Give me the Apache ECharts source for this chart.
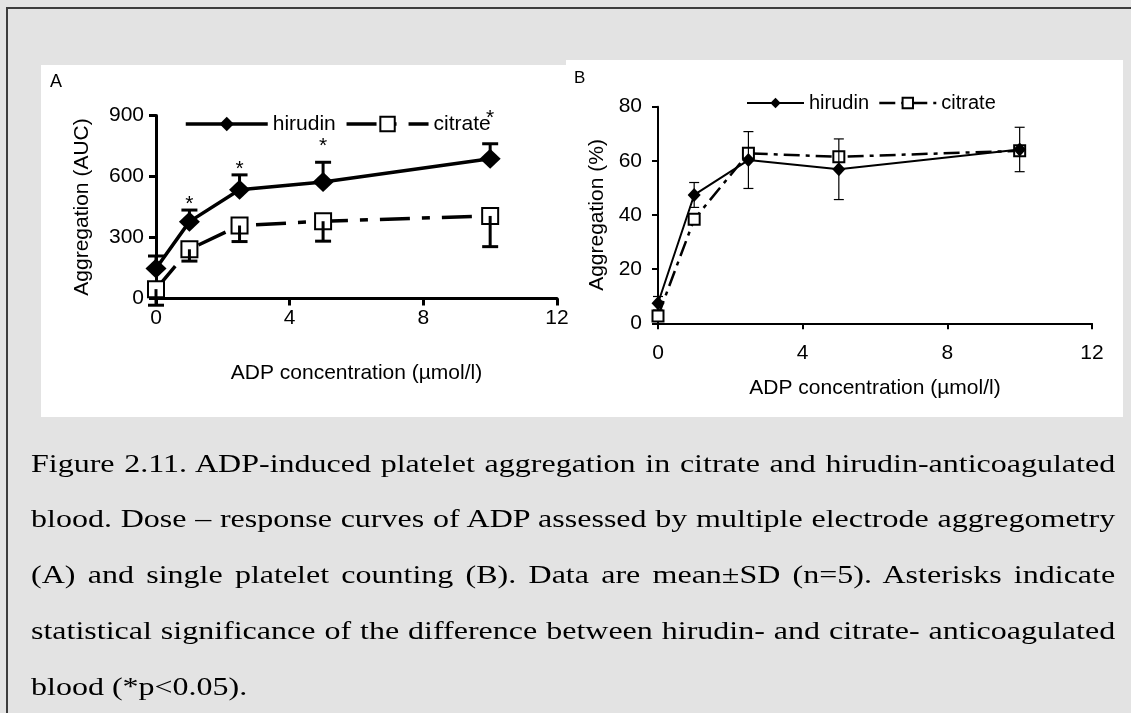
<!DOCTYPE html>
<html>
<head>
<meta charset="utf-8">
<script src="https://cdn.jsdelivr.net/npm/echarts@6/dist/echarts.min.js"></script>
<style>
html,body{margin:0;padding:0;background:#e3e3e3;}
#wrap{position:relative;width:1131px;height:713px;overflow:hidden;background:#e3e3e3;}
#frame{position:absolute;left:6px;top:7px;width:1200px;height:800px;border-top:2px solid #3c3c3c;border-left:2px solid #3c3c3c;}
.panel{position:absolute;background:#fff;}
#chart{position:absolute;left:0;top:0;width:1131px;height:713px;}
#caption{position:absolute;left:31px;top:435.7px;width:847px;font-family:"Liberation Serif","Times New Roman",serif;font-size:25px;line-height:55.75px;color:#000;transform:scaleX(1.28);transform-origin:0 0;}
#caption div{text-align:justify;text-align-last:justify;}
#caption div.last{text-align:left;text-align-last:left;}
</style>
</head>
<body>
<div id="wrap">
  <div id="frame"></div>
  <div class="panel" style="left:41px;top:65px;width:525px;height:352px;"></div>
  <div class="panel" style="left:566px;top:60px;width:557px;height:357px;"></div>
  <div id="chart"></div>
  <div id="caption">
    <div>Figure 2.11. ADP-induced platelet aggregation in citrate and hirudin-anticoagulated</div>
    <div>blood. Dose – response curves of ADP assessed by multiple electrode aggregometry</div>
    <div>(A) and single platelet counting (B). Data are mean±SD (n=5). Asterisks indicate</div>
    <div>statistical significance of the difference between hirudin- and citrate- anticoagulated</div>
    <div class="last">blood (*p&lt;0.05).</div>
  </div>
</div>
<script>
// ---------------- data ----------------
const xValues = [0, 1, 2.5, 5, 10];            // ADP concentration (µmol/l)
const xTicks = [0, 4, 8, 12];
// Panel A: multiple electrode aggregometry (AUC)
const hirudinA = [148, 378, 535, 573, 687];
const hirudinA_SD = [61, 57, 73, 97, 74];
const citrateA = [46, 242, 359, 380, 406];
const citrateA_SD = [79, 58, 79, 98, 151];
const asteriskA = ['', '*', '*', '*', '*'];
const asteriskA_at = [0, 484, 658, 768, 904];   // value level of each asterisk
const yTicksA = [0, 300, 600, 900];
// Panel B: single platelet counting (%)
const hirudinB = [7.4, 47.4, 60.3, 56.9, 64.2];
const hirudinB_SD = [2.5, 4.6, 10.5, 11.2, 8.2];
const citrateB = [2.7, 38.4, 62.8, 61.5, 63.7];
const yTicksB = [0, 20, 40, 60, 80];

// ---------------- chart ----------------
const FONT = '"Liberation Sans", Arial, sans-serif';
const chart = echarts.init(document.getElementById('chart'), null, {renderer: 'canvas'});

function pairs(ys) { return xValues.map((x, i) => [x, ys[i]]); }

function errorBars(name, idx, means, sds, dir, lw, capHalf, z, stars, starAt) {
  return {
    type: 'custom', name: name, xAxisIndex: idx, yAxisIndex: idx, z: z,
    silent: true, clip: false,
    data: xValues.map((x, i) => [x, means[i], sds[i]]),
    encode: {x: 0, y: 1},
    renderItem: function (params, api) {
      const i = params.dataIndex;
      const x = api.value(0), m = api.value(1), s = api.value(2);
      const children = [];
      const st = {stroke: '#000', lineWidth: lw, fill: null};
      if (s > 0) {
        const c = api.coord([x, m]);
        const ends = [];
        if (dir !== 'down') ends.push(api.coord([x, m + s]));
        if (dir !== 'up') ends.push(api.coord([x, m - s]));
        ends.forEach(function (p) {
          children.push({type: 'line', shape: {x1: c[0], y1: c[1], x2: p[0], y2: p[1]}, style: st});
          children.push({type: 'line', shape: {x1: p[0] - capHalf, y1: p[1], x2: p[0] + capHalf, y2: p[1]}, style: st});
        });
      }
      if (stars && stars[i]) {
        const p = api.coord([x, starAt[i]]);
        children.push({type: 'text', x: p[0], y: p[1] + 4,
          style: {text: stars[i], fill: '#000', fontSize: 21, fontFamily: FONT, align: 'center', verticalAlign: 'middle'}});
      }
      return {type: 'group', children: children};
    }
  };
}

function xAxisDef(idx, lw, tickLen, margin, nameGap) {
  return {
    gridIndex: idx, type: 'value', min: xTicks[0], max: xTicks[xTicks.length - 1], interval: 4,
    axisLine: {onZero: false, lineStyle: {color: '#000', width: lw}},
    axisTick: {length: tickLen, lineStyle: {color: '#000', width: lw}},
    axisLabel: {margin: margin, fontSize: 21, color: '#000', fontFamily: FONT},
    splitLine: {show: false},
    name: 'ADP concentration (µmol/l)', nameLocation: 'middle', nameGap: nameGap,
    nameTextStyle: {fontSize: 21, color: '#000', fontFamily: FONT}
  };
}
function yAxisDef(idx, ticks, lw, tickLen, margin, name, nameGap) {
  return {
    gridIndex: idx, type: 'value', min: ticks[0], max: ticks[ticks.length - 1], interval: ticks[1] - ticks[0],
    axisLine: {show: true, onZero: false, lineStyle: {color: '#000', width: lw}},
    axisTick: {show: true, length: tickLen, lineStyle: {color: '#000', width: lw}},
    axisLabel: {margin: margin, fontSize: 21, color: '#000', fontFamily: FONT},
    splitLine: {show: false},
    name: name, nameLocation: 'middle', nameGap: nameGap,
    nameTextStyle: {fontSize: 21, color: '#000', fontFamily: FONT}
  };
}

const option = {
  animation: false,
  backgroundColor: 'transparent',
  textStyle: {fontFamily: FONT},
  graphic: [
    {type: 'text', left: 50, top: 73, style: {text: 'A', fontSize: 18, fontFamily: FONT, fill: '#000'}},
    {type: 'text', left: 574, top: 70, style: {text: 'B', fontSize: 17, fontFamily: FONT, fill: '#000'}}
  ],
  grid: [
    {left: 156, right: 574, top: 115.5, bottom: 414.5},
    {left: 658, right: 39, top: 106.7, bottom: 389.7}
  ],
  legend: [
    {left: 184, top: 113.5, padding: 0, itemWidth: 82, itemHeight: 18, itemGap: 9,
      lineStyle: {width: 'inherit', type: 'inherit'},
      textStyle: {fontSize: 21, color: '#000', fontFamily: FONT},
      data: ['hirudin', 'citrate']},
    {left: 746, top: 93, padding: 0, itemWidth: 57, itemHeight: 13, itemGap: 9,
      lineStyle: {width: 'inherit', type: 'inherit'},
      textStyle: {fontSize: 20, color: '#000', fontFamily: FONT},
      formatter: function (n) { return n.replace(' B', ''); },
      data: ['hirudin B', 'citrate B']}
  ],
  xAxis: [xAxisDef(0, 3, 7, 9, 64), xAxisDef(1, 2, 6, 19, 54)],
  yAxis: [
    yAxisDef(0, yTicksA, 3, 7, 12, 'Aggregation (AUC)', 63),
    yAxisDef(1, yTicksB, 2, 6, 16, 'Aggregation (%)', 50)
  ],
  series: [
    {type: 'line', name: 'citrate', xAxisIndex: 0, yAxisIndex: 0, data: pairs(citrateA), z: 3,
      symbol: 'emptyRect', symbolSize: 16, itemStyle: {color: '#000', borderWidth: 2.5},
      lineStyle: {color: '#000', width: 3.5, type: [30, 12, 8, 12]}},
    {type: 'line', name: 'hirudin', xAxisIndex: 0, yAxisIndex: 0, data: pairs(hirudinA), z: 4,
      symbol: 'diamond', symbolSize: [21, 20], itemStyle: {color: '#000'},
      lineStyle: {color: '#000', width: 3.5, type: 'solid'}},
    errorBars('hirudin SD A', 0, hirudinA, hirudinA_SD, 'up', 3, 8, 3, asteriskA, asteriskA_at),
    errorBars('citrate SD A', 0, citrateA, citrateA_SD, 'down', 3, 8, 5),
    {type: 'line', name: 'citrate B', xAxisIndex: 1, yAxisIndex: 1, data: pairs(citrateB), z: 3,
      symbol: 'emptyRect', symbolSize: 11, itemStyle: {color: '#000', borderWidth: 1.5},
      lineStyle: {color: '#000', width: 2.5, type: [16, 6, 4, 6]}},
    {type: 'line', name: 'hirudin B', xAxisIndex: 1, yAxisIndex: 1, data: pairs(hirudinB), z: 4,
      symbol: 'diamond', symbolSize: [13, 14], itemStyle: {color: '#000'},
      lineStyle: {color: '#000', width: 2, type: 'solid'}},
    errorBars('hirudin SD B', 1, hirudinB, hirudinB_SD, 'both', 1.2, 5, 5)
  ]
};
chart.setOption(option);
</script>
</body>
</html>
